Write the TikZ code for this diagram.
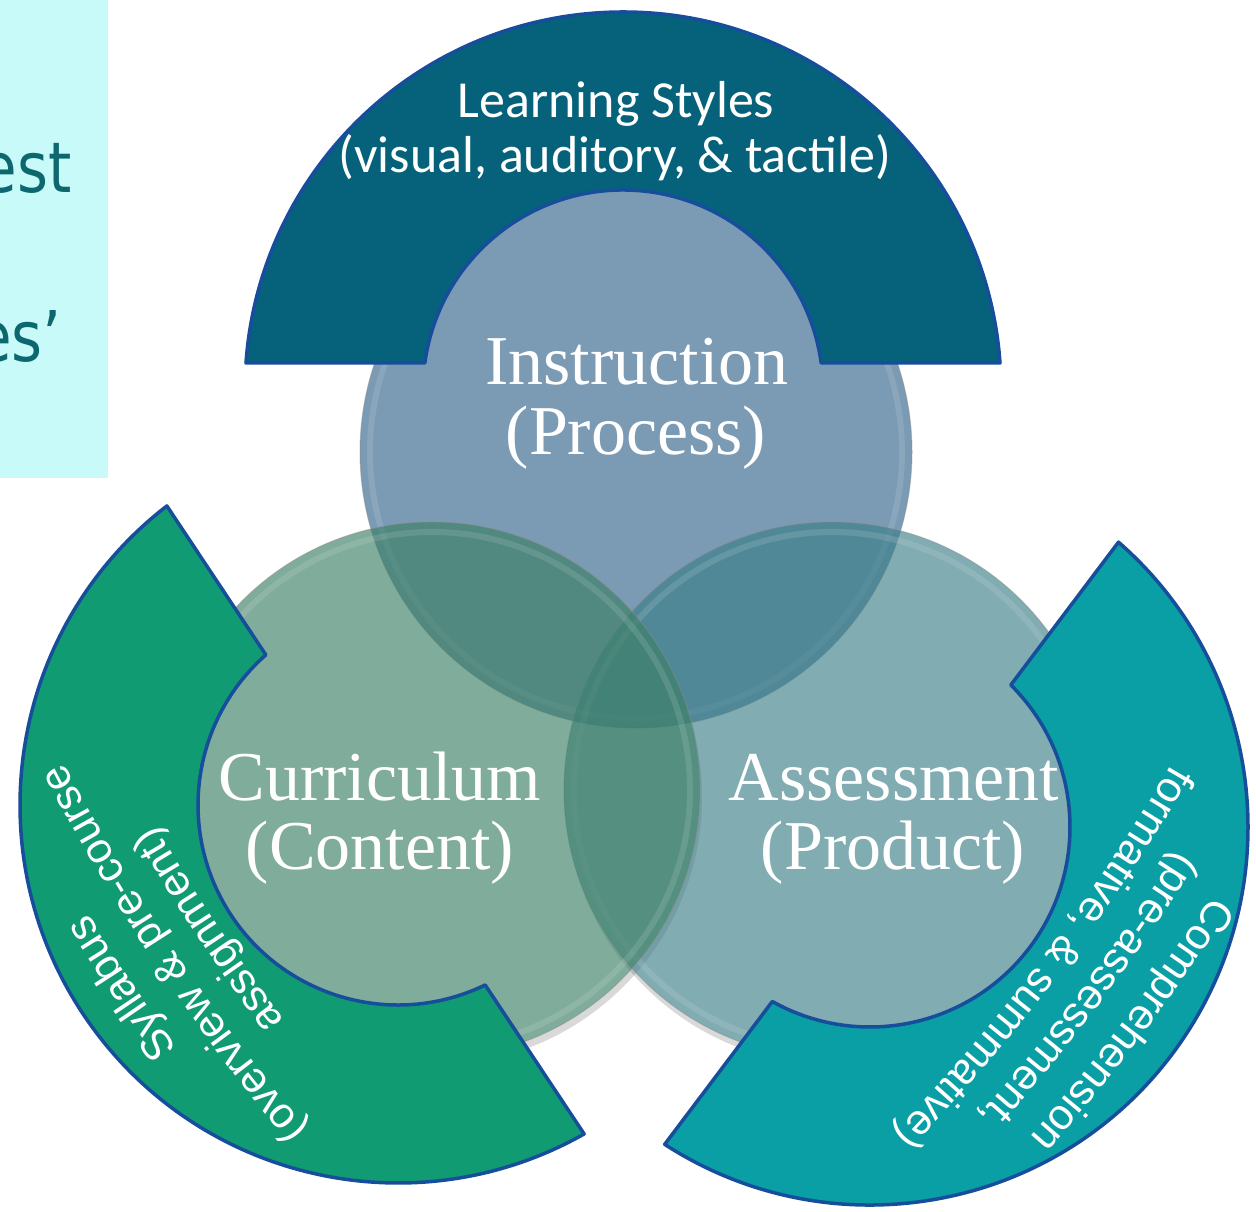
\documentclass[tikz,border=0pt]{standalone}
\usepackage{fontspec}
\setmainfont{Liberation Serif}
\newfontfamily\bandfont{Liberation Sans}
\newfontfamily\capfont{Carlito}
\newfontfamily\slidefont[FakeStretch=0.85]{DejaVu Sans}
\usetikzlibrary{calc,decorations.text}

\definecolor{slidecyan}{RGB}{200,250,250}
\definecolor{slideteal}{RGB}{12,104,110}
\definecolor{bandedge}{RGB}{22,78,156}
\definecolor{instrfill}{RGB}{52,100,138}
\definecolor{currfill}{RGB}{60,127,101}
\definecolor{assessfill}{RGB}{60,127,137}
\definecolor{topband}{RGB}{5,98,122}
\definecolor{leftband}{RGB}{16,155,115}
\definecolor{rightband}{RGB}{10,158,165}

% block arc, opening downwards, centred on the origin
\newcommand{\bandshape}{(4.1:378) arc[start angle=4.1, end angle=175.9, radius=378]
  -- (172.24:200) arc[start angle=172.24, end angle=7.76, radius=200] -- cycle}

\tikzset{
  venn/.style={fill=#1, fill opacity=0.65, draw=black!45, draw opacity=0.45, line width=1},
  rim/.style={draw=white, draw opacity=0.12, line width=6},
  band/.style={fill=#1, draw=bandedge, line width=3.5, line join=round},
  circtxt/.style={text=white, font=\fontsize{70}{76}\selectfont, anchor=base, inner sep=0},
  toptxt/.style={text=white, font=\capfont\fontsize{52}{58}\selectfont, anchor=base, inner sep=0},
  slidetxt/.style={text=slideteal, font=\slidefont\fontsize{70}{74}\selectfont, anchor=base east, inner sep=0},
  arctxt/.style={decorate, decoration={text along path, text align=center, text color=white,
    text={|\bandfont\fontsize{43}{50}\selectfont|#1}}}
}

\begin{document}
\begin{tikzpicture}[x=1pt,y=1pt]
\useasboundingbox (0,0) rectangle (1256,1212);

% panel of the slide behind, cut off
\begin{scope}
\clip (0,734) rectangle (108,1212);
\fill[slidecyan] (0,734) rectangle (108,1212);
\node[slidetxt] (side1) at (72,1019) {est};
\node[slidetxt] (side2) at (62,850) {es’};
\end{scope}

% shadows, only outside the circles
\begin{scope}[even odd rule]
\clip (0,0) rectangle (1256,1212) (432,422) circle (268);
\fill[black, opacity=0.15] (434,415) circle (268);
\end{scope}
\begin{scope}[even odd rule]
\clip (0,0) rectangle (1256,1212) (832,422) circle (268);
\fill[black, opacity=0.15] (834,415) circle (268);
\end{scope}

% the three circles
\path[venn=instrfill] (636,760) circle (276);
\draw[rim] (636,760) circle (266);
\path[venn=assessfill] (832,422) circle (268);
\draw[rim] (832,422) circle (258);
\path[venn=currfill] (432,422) circle (268);
\draw[rim] (432,422) circle (258);

% block arcs
\begin{scope}[shift={(623,822)}]
\path[band=topband] \bandshape;
\end{scope}
\begin{scope}[shift={(398,407)}, rotate=123.6]
\path[band=leftband] \bandshape;
\end{scope}
\begin{scope}[shift={(870,385)}, rotate=233]
\path[band=rightband] \bandshape;
\end{scope}

% circle labels
\node[circtxt] (instr1) at (637,827) {Instruction};
\node[circtxt] (instr2) at (636,757) {(Process)};
\node[circtxt] (curr1) at (380,411) {Curriculum};
\node[circtxt] (curr2) at (380,342) {(Content)};
\node[circtxt] (assess1) at (894,411) {Assessment};
\node[circtxt] (assess2) at (893,342) {(Product)};

% band labels
\node[toptxt] (learn1) at (616,1094) {Learning Styles};
\node[toptxt] (learn2) at (615,1039) {(visual, auditory, \& tactile)};

\coordinate (lb) at (398,407);
\path[arctxt={Syllabus}] ($(lb)+(33.6:1700)$) ++(225.6:2020)
  arc[start angle=225.6, end angle=201.6, radius=2020];
\path[arctxt={(overview {\&} pre-course}] ($(lb)+(33.6:1700)$) ++(225.6:1967)
  arc[start angle=225.6, end angle=201.6, radius=1967];
\path[arctxt={assignment)}] ($(lb)+(33.6:1700)$) ++(225.6:1917)
  arc[start angle=225.6, end angle=201.6, radius=1917];

\coordinate (rb) at (870,385);
\path[arctxt={Comprehension}] ($(rb)+(143:1700)$) ++(335:2020)
  arc[start angle=335, end angle=311, radius=2020];
\path[arctxt={(pre-assessment,}] ($(rb)+(143:1700)$) ++(335:1967)
  arc[start angle=335, end angle=311, radius=1967];
\path[arctxt={formative, {\&} summative)}] ($(rb)+(143:1700)$) ++(335:1917)
  arc[start angle=335, end angle=311, radius=1917];
\end{tikzpicture}
\end{document}
